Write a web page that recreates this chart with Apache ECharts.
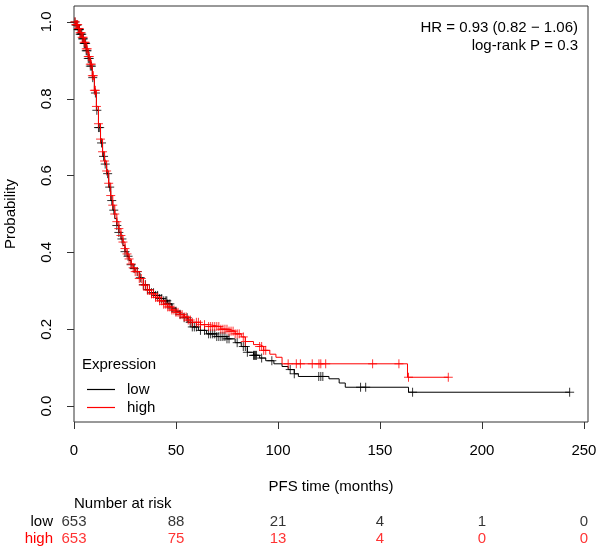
<!DOCTYPE html>
<html>
<head>
<meta charset="utf-8">
<script src="https://cdn.jsdelivr.net/npm/echarts@6/dist/echarts.min.js"></script>
<style>
html,body{margin:0;padding:0;background:#fff;}
#chart{width:602px;height:554px;}
</style>
</head>
<body>
<div id="chart"></div>
<script>
// ---- data ----
const lowTimes = [0,1,2,3,4,5,6,7,8,9,10,11,12,13,14,15,16,17,18,19,20,21,22,23,24,25,26,27,28,29,30,32,34,36,38,40,42,44,46,48,50,52,54,56,58,61,65,70,75,79,82,85,88,91,94,98,102,105,108,110,125,130,133,164,243];
const lowSurv  = [1.0,0.992,0.98,0.968,0.956,0.944,0.925,0.905,0.885,0.855,0.815,0.77,0.725,0.685,0.65,0.63,0.605,0.57,0.535,0.51,0.488,0.47,0.452,0.435,0.418,0.402,0.39,0.379,0.368,0.358,0.35,0.334,0.316,0.303,0.295,0.288,0.28,0.274,0.266,0.255,0.247,0.239,0.23,0.218,0.206,0.197,0.188,0.181,0.175,0.165,0.155,0.14,0.132,0.125,0.118,0.11,0.103,0.095,0.084,0.077,0.071,0.06,0.049,0.036,0.036];
const highTimes = [0,1,2,3,4,5,6,7,8,9,10,11,12,13,14,15,16,17,18,19,20,21,22,23,24,25,26,27,28,29,30,32,34,36,38,40,42,44,46,48,50,52,54,56,58,62,66,72,76,79,82,84,88,91,93,96,99,102,163.5,183.5];
const highSurv  = [1.0,0.993,0.983,0.972,0.96,0.947,0.93,0.91,0.89,0.86,0.822,0.78,0.735,0.695,0.662,0.638,0.612,0.58,0.548,0.523,0.5,0.48,0.462,0.444,0.427,0.41,0.396,0.383,0.37,0.36,0.35,0.332,0.315,0.302,0.292,0.283,0.274,0.265,0.258,0.25,0.244,0.238,0.232,0.224,0.218,0.212,0.207,0.2,0.195,0.188,0.18,0.168,0.16,0.155,0.145,0.135,0.127,0.11,0.075,0.075];
const lowCensor = [0.5,1,1.5,2,2.3,2.7,3,3.4,3.8,4.2,4.6,5,5.3,5.7,6,6.4,7,7.5,8,8.6,9.2,10.5,11.2,12,12.6,13.5,14.5,15.3,16.5,17.5,18.5,19.5,21,22,23.5,25,26.5,28,29.5,31,32.5,34,35,36,37,38,39,40,41,42,43,44,45,45.5,46,47,48,50,52,54,55.5,57,58,59,60,62,64,66,67,68,69,70,71,72,73,74,75,76,80,83,84,85,88,88.5,89,89.5,92,97,106,108,120,121,122,140.5,143,166,243];
const highCensor = [0.5,1,1.4,1.8,2.2,2.6,3,3.5,4,4.5,5,5.5,6,6.5,7,7.5,8,8.5,9,9.5,10,10.5,11,12,13,14,15,16,17,18,19,20,21,22,23,24,25,26,27,28,29,30,31,32,33,34,35,36,37,38,39,40,41,42,43,44,45,46,47,48,49,50,51,52,53,54,55,56,57,58,60,61,62,64,66,67,68,69,70,71,72,73,74,75,76,77,78,79,80,81,83,84,91,92,93,94,105,109,111,116.8,120.1,121,123.4,146.4,159.3,164,183.5];
const xTicks = [0,50,100,150,200,250];
const yTicks = [0,0.2,0.4,0.6,0.8,1.0];
const riskTimes = [0,50,100,150,200,250];
const riskLow  = [653,88,21,4,1,0];
const riskHigh = [653,75,13,4,0,0];
const groupNames = ['low','high'];
const hrText = 'HR = 0.93 (0.82 \u2212 1.06)';
const pText = 'log-rank P = 0.3';

// ---- helpers ----
function survAt(times, surv, t){
  let s = surv[0];
  for (let i=0;i<times.length;i++){ if (times[i] <= t) s = surv[i]; else break; }
  return s;
}
const curve = (times, surv) => times.map((t,i)=>[t, surv[i]]);
const marks = (cens, times, surv) => cens.map(t=>[t, survAt(times, surv, t)]);

const FONT = '"Liberation Sans", Arial, sans-serif';
const FS = 15;
const plus = 'path://M5,0V10M0,5H10';

const chart = echarts.init(document.getElementById('chart'), null, {renderer:'canvas'});
chart.setOption({
  animation:false,
  backgroundColor:'#fff',
  textStyle:{fontFamily:FONT},
  title:[
    {text:hrText, right:24, top:20, padding:0, textStyle:{fontSize:FS, fontWeight:'normal', color:'#000', fontFamily:FONT}},
    {text:pText, right:24, top:38, padding:0, textStyle:{fontSize:FS, fontWeight:'normal', color:'#000', fontFamily:FONT}},
    {text:'Expression', left:82, top:357, padding:0, textStyle:{fontSize:FS, fontWeight:'normal', color:'#000', fontFamily:FONT}},
    {text:'Number at risk', left:74, top:496, padding:0, textStyle:{fontSize:FS, fontWeight:'normal', color:'#000', fontFamily:FONT}}
  ],
  legend:{
    data:groupNames,
    orient:'vertical',
    left:87, top:382,
    padding:0,
    itemWidth:28, itemHeight:1.2, itemGap:3,
    icon:'rect',
    textStyle:{fontSize:FS, color:'#000', fontFamily:FONT, padding:[0,0,0,7]},
    selectedMode:false
  },
  grid:[
    {left:74, right:14, top:6, bottom:132, show:true, borderColor:'#333', borderWidth:1, backgroundColor:'transparent', containLabel:false, outerBoundsMode:'none'},
    {left:74, right:14, top:513, height:35, containLabel:false, outerBoundsMode:'none'}
  ],
  xAxis:[
    {type:'value', gridIndex:0, min:0, max:252, position:'bottom',
     name:'PFS time (months)', nameLocation:'middle', nameGap:57,
     nameTextStyle:{fontSize:FS, color:'#000', fontFamily:FONT},
     axisLine:{show:false, onZero:false}, splitLine:{show:false},
     axisTick:{show:true, inside:false, length:7, lineStyle:{color:'#333'}, customValues:xTicks},
     axisLabel:{fontSize:FS, color:'#000', margin:21, customValues:xTicks, fontFamily:FONT}},
    {type:'value', gridIndex:1, min:0, max:252, show:false}
  ],
  yAxis:[
    {type:'value', gridIndex:0, min:-0.0415, max:1.0415, position:'left',
     name:'Probability', nameLocation:'middle', nameGap:56, nameRotate:90,
     nameTextStyle:{fontSize:FS, color:'#000', fontFamily:FONT},
     axisLine:{show:false, onZero:false}, splitLine:{show:false},
     axisTick:{show:true, inside:false, length:7, lineStyle:{color:'#333'}, customValues:yTicks},
     axisLabel:{fontSize:FS, color:'#000', rotate:90, margin:20, customValues:yTicks, fontFamily:FONT,
       formatter:v=>v.toFixed(1)}},
    {type:'category', gridIndex:1, data:['high','low'], inverse:false,
     axisLine:{show:false}, axisTick:{show:false}, splitLine:{show:false},
     axisLabel:{margin:21, interval:0, fontSize:FS, fontFamily:FONT,
       formatter:v=>'{'+v+'|'+v+'}',
       rich:{low:{color:'#000', fontSize:FS, fontFamily:FONT}, high:{color:'#ff0000', fontSize:FS, fontFamily:FONT}}}}
  ],
  series:[
    {name:'low', type:'line', xAxisIndex:0, yAxisIndex:0, step:'end', showSymbol:false,
     lineStyle:{color:'#000', width:1}, itemStyle:{color:'#000'}, data:curve(lowTimes, lowSurv), z:2},
    {name:'low censored', type:'scatter', xAxisIndex:0, yAxisIndex:0, symbol:plus, symbolSize:9,
     itemStyle:{color:'rgba(0,0,0,0)', borderColor:'#000', borderWidth:1}, data:marks(lowCensor, lowTimes, lowSurv), z:2},
    {name:'high', type:'line', xAxisIndex:0, yAxisIndex:0, step:'end', showSymbol:false,
     lineStyle:{color:'#ff0000', width:1}, itemStyle:{color:'#ff0000'}, data:curve(highTimes, highSurv), z:3},
    {name:'high censored', type:'scatter', xAxisIndex:0, yAxisIndex:0, symbol:plus, symbolSize:9,
     itemStyle:{color:'rgba(0,0,0,0)', borderColor:'#ff0000', borderWidth:1}, data:marks(highCensor, highTimes, highSurv), z:3},
    {name:'risk low', type:'scatter', xAxisIndex:1, yAxisIndex:1, symbolSize:0,
     label:{show:true, position:'inside', fontSize:FS, color:'#000', fontFamily:FONT, formatter:p=>String(p.value[2])},
     data:riskTimes.map((t,i)=>[t,'low',riskLow[i]])},
    {name:'risk high', type:'scatter', xAxisIndex:1, yAxisIndex:1, symbolSize:0,
     label:{show:true, position:'inside', fontSize:FS, color:'#ff0000', fontFamily:FONT, formatter:p=>String(p.value[2])},
     data:riskTimes.map((t,i)=>[t,'high',riskHigh[i]])}
  ]
});
</script>
</body>
</html>
